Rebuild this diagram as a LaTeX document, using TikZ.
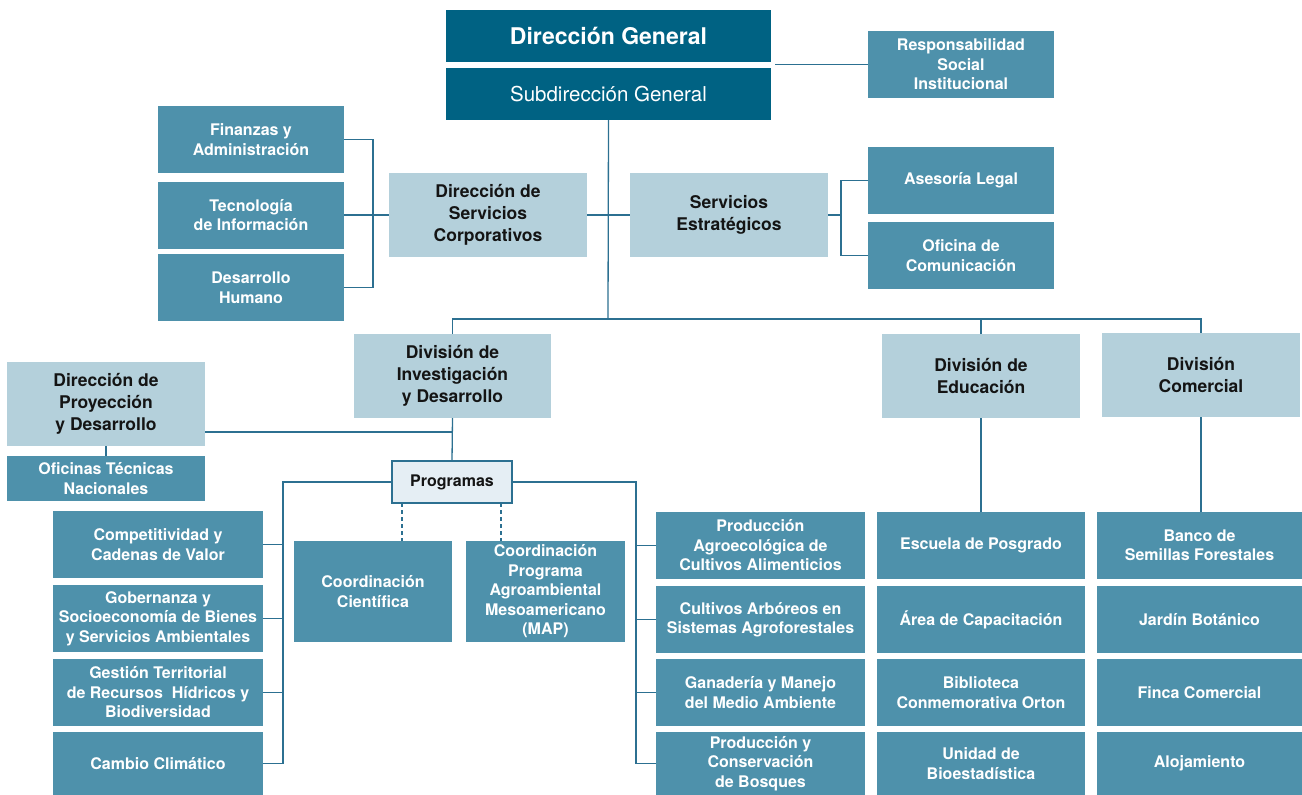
\documentclass[tikz,border=0pt]{standalone}
\usepackage{fontspec}
\setmainfont{TeX Gyre Heros}
\definecolor{cdark}{RGB}{0,98,131}
\definecolor{cmed}{RGB}{78,145,171}
\definecolor{clight}{RGB}{180,208,219}
\definecolor{cprog}{RGB}{229,238,244}
\definecolor{cline}{RGB}{44,112,145}
\definecolor{ctxt}{RGB}{20,20,20}
\begin{document}
\begin{tikzpicture}[x=1pt,y=-1pt,
  bx/.style={inner sep=0pt,outer sep=0pt,align=center,anchor=north west},
  sz/.style 2 args={minimum width=#1pt,minimum height=#2pt},
  dark/.style={bx,fill=cdark,text=white},
  med/.style={bx,fill=cmed,text=white,font=\fontsize{16}{19.5}\selectfont\bfseries},
  light/.style={bx,fill=clight,text=ctxt,font=\fontsize{17.5}{22}\selectfont\bfseries},
  conn/.style={draw=cline,line width=1.3pt},
  dashconn/.style={conn,dashed,dash pattern=on 4pt off 3pt}]
\useasboundingbox (0,0) rectangle (1302,795);
% top
\node[dark,sz={325}{52},font=\fontsize{23}{26}\selectfont\bfseries] (dg) at (446,10) {Dirección General};
\node[dark,sz={325}{52},font=\fontsize{20.5}{24}\selectfont] (sdg) at (446,68) {Subdirección General};
\node[med,sz={186}{67}] (rsi) at (868,31) {Responsabilidad\\Social\\Institucional};
% corporate
\node[med,sz={186}{67}] (fin) at (158,106) {Finanzas y\\Administración};
\node[med,sz={186}{67}] (ti) at (158,181.5) {Tecnología\\de Información};
\node[med,sz={186}{67}] (dh) at (158,254) {Desarrollo\\Humano};
\node[light,sz={198}{84}] (dsc) at (389,173) {Dirección de\\Servicios\\Corporativos};
\node[light,sz={198}{84}] (se) at (630,173) {Servicios\\Estratégicos};
\node[med,sz={186}{67}] (al) at (868,147) {Asesoría Legal};
\node[med,sz={186}{67}] (oc) at (868,222) {Oficina de\\Comunicación};
% divisions
\node[light,sz={197}{84}] (did) at (354,334) {División de\\Investigación\\y Desarrollo};
\node[light,sz={198}{84}] (dedu) at (882,334) {División de\\Educación};
\node[light,sz={198}{84}] (dcom) at (1102,333) {División\\Comercial};
\node[light,sz={198}{84}] (dpd) at (7,362) {Dirección de\\Proyección\\y Desarrollo};
\node[med,sz={198}{45}] (otn) at (7,456) {Oficinas Técnicas\\Nacionales};
\node[bx,sz={120}{42},fill=cprog,draw=cline,line width=1.2pt,text=ctxt,font=\fontsize{16}{19}\selectfont\bfseries] (prog) at (392,461) {Programas};
\node[med,sz={158}{101}] (cc) at (294,541) {Coordinación\\Científica};
\node[med,sz={159}{101}] (cmap) at (466,541) {Coordinación\\Programa\\Agroambiental\\Mesoamericano\\(MAP)};
% left column
\node[med,sz={210}{67}] (comp) at (53,511) {Competitividad y\\Cadenas de Valor};
\node[med,sz={210}{67}] (gob) at (53,585) {Gobernanza y\\Socioeconomía de Bienes\\y Servicios Ambientales};
\node[med,sz={210}{67}] (ges) at (53,659) {Gestión Territorial\\de Recursos\ \ Hídricos y\\Biodiversidad};
\node[med,sz={210}{63}] (cam) at (53,732) {Cambio Climático};
% right column
\node[med,sz={209}{67}] (pa) at (656,512) {Producción\\Agroecológica de\\Cultivos Alimenticios};
\node[med,sz={209}{67}] (ca) at (656,586) {Cultivos Arbóreos en\\Sistemas Agroforestales};
\node[med,sz={209}{67}] (gan) at (656,659) {Ganadería y Manejo\\del Medio Ambiente};
\node[med,sz={209}{63}] (pcb) at (656,732) {Producción y\\Conservación\\de Bosques};
% education
\node[med,sz={208}{67}] (esc) at (877,512) {Escuela de Posgrado};
\node[med,sz={208}{67}] (area) at (877,586) {Área de Capacitación};
\node[med,sz={208}{67}] (bib) at (877,659) {Biblioteca\\Conmemorativa Orton};
\node[med,sz={208}{63}] (uni) at (877,732) {Unidad de\\Bioestadística};
% commercial
\node[med,sz={205}{67}] (banco) at (1097,512) {Banco de\\Semillas Forestales};
\node[med,sz={205}{67}] (jar) at (1097,586) {Jardín Botánico};
\node[med,sz={205}{67}] (finca) at (1097,659) {Finca Comercial};
\node[med,sz={205}{63}] (aloj) at (1097,732) {Alojamiento};
% connectors
\draw[conn] (rsi.west) -- ([xshift=4pt]dg.south east |- rsi.west);
\coordinate (bus) at (608,319);
\draw[conn] (sdg.south) -- (bus);
\draw[conn] (did.north) |- (dcom.north |- bus) -- (dcom.north);
\draw[conn] (dedu.north) -- (dedu.north |- bus);
\draw[conn] (fin.east) -- ++(29,0) |- (dh.east);
\draw[conn] (ti.east) -- (dsc.west);
\draw[conn] (dsc.east) -- (se.west);
\draw[conn] (se.east) -- ++(13,0);
\draw[conn] (al.west) -- ++(-27,0) |- (oc.west);
\draw[conn] ([yshift=14pt]dpd.south east) -| (did.south);
\draw[conn] (did.south) -- (prog.north);
\draw[conn] (dpd.south) -- (otn.north);
\draw[conn] (prog.west) -| ([xshift=20pt]cam.east) -- (cam.east);
\draw[conn] (comp.east) -- ++(20,0);
\draw[conn] (gob.east) -- ++(20,0);
\draw[conn] (ges.east) -- ++(20,0);
\draw[conn] (prog.east) -| ([xshift=-20pt]pcb.west) -- (pcb.west);
\draw[conn] (pa.west) -- ++(-20,0);
\draw[conn] (ca.west) -- ++(-20,0);
\draw[conn] (gan.west) -- ++(-20,0);
\draw[dashconn] ([xshift=-50pt]prog.south) -- ([xshift=-50pt]prog.south |- cc.north);
\draw[dashconn] ([xshift=49pt]prog.south) -- ([xshift=49pt]prog.south |- cmap.north);
\draw[conn] (dedu.south) -- (esc.north);
\draw[conn] (dcom.south) -- (dcom.south |- banco.north);
\end{tikzpicture}
\end{document}
